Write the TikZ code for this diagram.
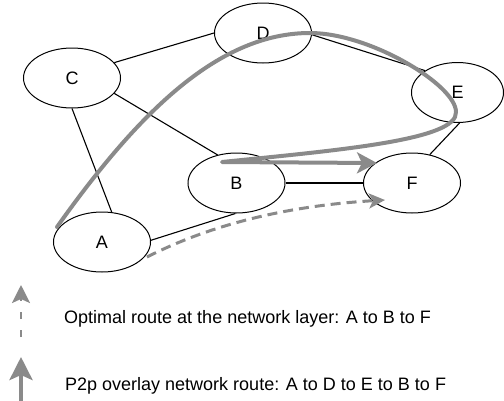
\documentclass[tikz,border=0pt]{standalone}
\usepackage{fontspec}
\setmainfont{Liberation Sans}
\usetikzlibrary{shapes.geometric,arrows.meta}
\definecolor{routegray}{RGB}{138,138,138}
\begin{document}
\begin{tikzpicture}[x=1pt,y=-1pt,
  peer/.style={ellipse,draw,line width=1pt,minimum width=97pt,minimum height=60pt,inner sep=0pt,font=\fontsize{18}{21}\selectfont},
  link/.style={line width=1.1pt},
  p2proute/.style={draw=routegray,line width=4pt,line cap=round,line join=round,-{Stealth[length=20pt,width=21pt,inset=5pt]}},
  optroute/.style={draw=routegray,line width=3pt,dash pattern=on 10pt off 6pt,-{Stealth[length=16pt,width=15pt,inset=4pt]}},
  legdash/.style={draw=routegray,line width=2.5pt,dash pattern=on 7pt off 11pt,-{Stealth[length=18pt,width=18pt,inset=4pt]}},
  legsolid/.style={draw=routegray,line width=4pt,-{Stealth[length=23pt,width=23pt,inset=5pt]}},
  legendtext/.style={anchor=base west,font=\fontsize{18}{21}\selectfont,inner sep=0pt}]
\useasboundingbox (0,0) rectangle (504,400);

% peers
\node[peer] (C) at (72,78) {C};
\node[peer] (D) at (263,33) {D};
\node[peer,minimum width=92pt] (E) at (457.5,92.5) {E};
\node[peer] (B) at (236.5,183) {B};
\node[peer] (F) at (412,183) {F};
\node[peer] (A) at (102,242) {A};

% physical links
\draw[link] (C.20) -- (D.180);
\draw[link] (D.-2) -- (E.146);
\draw[link] (C.-20) -- (B.124);
\draw[link] (C.-90) -- (A.72);
\draw[link] (B) -- (F);
\draw[link] (E.-86) -- (F.58);
\draw[link] (A.2) -- (B.-92);

% route coordinates
\coordinate (pStart) at (57,227);
\coordinate (pPeak) at (310,33);
\coordinate (pRight) at (456,112);
\coordinate (pTurn) at (222,162);
\coordinate (pEnd) at (377,163);
\coordinate (oStart) at (147,257);
\coordinate (oEnd) at (385,200);

% optimal route (dashed)
\draw[optroute] (oStart) .. controls (220,220) and (300,205) .. (oEnd);

% p2p overlay route
\draw[p2proute] (pStart) .. controls (140,110) and (220,33) .. (pPeak)
  .. controls (370,33) and (456,85) .. (pRight)
  .. controls (458,140) and (340,150) .. (pTurn) -- (pEnd);

% legend
\coordinate (l1a) at (21,337);
\coordinate (l1b) at (21,285);
\coordinate (l2a) at (21,402);
\coordinate (l2b) at (21,357);
\draw[legdash] (l1a) -- (l1b);
\draw[legsolid] (l2a) -- (l2b);
\node[legendtext] (t1) at (64,323) {Optimal route at the network layer: A to B to F};
\node[legendtext] (t2) at (65,390) {P2p overlay network route: A to D to E to B to F};
\end{tikzpicture}
\end{document}
